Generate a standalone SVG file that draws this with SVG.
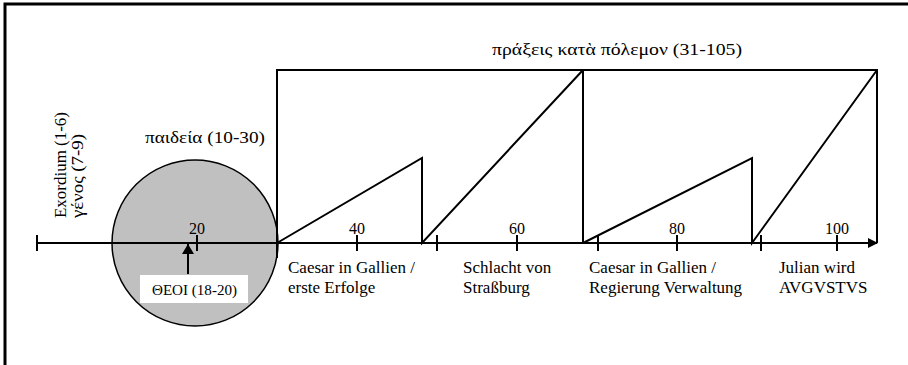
<svg xmlns="http://www.w3.org/2000/svg" width="908" height="365" viewBox="0 0 908 365">
<defs>
<style>
.ln{stroke:#000;stroke-width:2;fill:none}
</style>
<marker id="ah" markerWidth="10" markerHeight="10" refX="9" refY="5" orient="auto" markerUnits="userSpaceOnUse">
<path d="M0,0 L10,5 L0,10 Z" fill="#000"/>
</marker>
<marker id="au" markerWidth="12" markerHeight="12" refX="10" refY="6" orient="auto" markerUnits="userSpaceOnUse">
<path d="M0,0 L10,6 L0,12 Z" fill="#000"/>
</marker>
</defs>
<rect width="908" height="365" fill="#fff"/>
<g id="frame">
<path d="M5,365 L5,4 L908,4" stroke="#000" stroke-width="3" fill="none"/>
</g>
<g font-family="'Liberation Serif', 'Times New Roman', 'DejaVu Serif', serif" font-size="17" fill="#000">
<g id="paideia">
<circle cx="195" cy="243" r="83" fill="#c0c0c0" stroke="#000" stroke-width="1.5"/>
<text x="145" y="143" textLength="120" lengthAdjust="spacingAndGlyphs">παιδεία (10-30)</text>
</g>
<g id="exordium">
<text transform="translate(66,218) rotate(-90)" textLength="106" lengthAdjust="spacingAndGlyphs">Exordium (1-6)</text>
<text transform="translate(83,218) rotate(-90)" textLength="84" lengthAdjust="spacingAndGlyphs">γένος (7-9)</text>
</g>
<g id="connectors">
<line class="ln" x1="37" y1="243" x2="877" y2="243" marker-end="url(#ah)"/>
<line class="ln" x1="37" y1="235" x2="37" y2="251"/>
<line class="ln" x1="197" y1="235" x2="197" y2="251"/>
<line class="ln" x1="357" y1="235" x2="357" y2="251"/>
<line class="ln" x1="437" y1="235" x2="437" y2="251"/>
<line class="ln" x1="517" y1="235" x2="517" y2="251"/>
<line class="ln" x1="598" y1="235" x2="598" y2="251"/>
<line class="ln" x1="677" y1="235" x2="677" y2="251"/>
<line class="ln" x1="761" y1="235" x2="761" y2="251"/>
<line class="ln" x1="837" y1="235" x2="837" y2="251"/>
<path class="ln" d="M277,258 L277,70 L877,70 L877,243"/>
<path class="ln" d="M583,70 L583,243"/>
<path class="ln" d="M277,243 L422,158 L422,243 L583,70"/>
<path class="ln" d="M583,243 L752,158 L752,243 L877,70"/>
<line class="ln" x1="188" y1="274" x2="188" y2="244" marker-end="url(#au)"/>
</g>
<g id="axis-labels" font-size="16">
<text x="197" y="234" text-anchor="middle">20</text>
<text x="357" y="234" text-anchor="middle">40</text>
<text x="517" y="234" text-anchor="middle">60</text>
<text x="677" y="234" text-anchor="middle">80</text>
<text x="837" y="234" text-anchor="middle">100</text>
</g>
<g id="praxeis">
<text x="492" y="55" textLength="250" lengthAdjust="spacingAndGlyphs">πράξεις κατὰ πόλεμον (31-105)</text>
</g>
<g id="theoi">
<rect x="140" y="275" width="108" height="28" fill="#fff"/>
<text x="152" y="295" font-size="14" textLength="85" lengthAdjust="spacingAndGlyphs">ΘΕΟΙ (18-20)</text>
</g>
<g id="seg1"><text x="288" y="273">Caesar in Gallien /</text><text x="288" y="293">erste Erfolge</text></g>
<g id="seg2"><text x="463" y="273">Schlacht von</text><text x="463" y="293">Straßburg</text></g>
<g id="seg3"><text x="589" y="273">Caesar in Gallien /</text><text x="589" y="293">Regierung Verwaltung</text></g>
<g id="seg4"><text x="779" y="273">Julian wird</text><text x="779" y="293">AVGVSTVS</text></g>
</g>
</svg>
